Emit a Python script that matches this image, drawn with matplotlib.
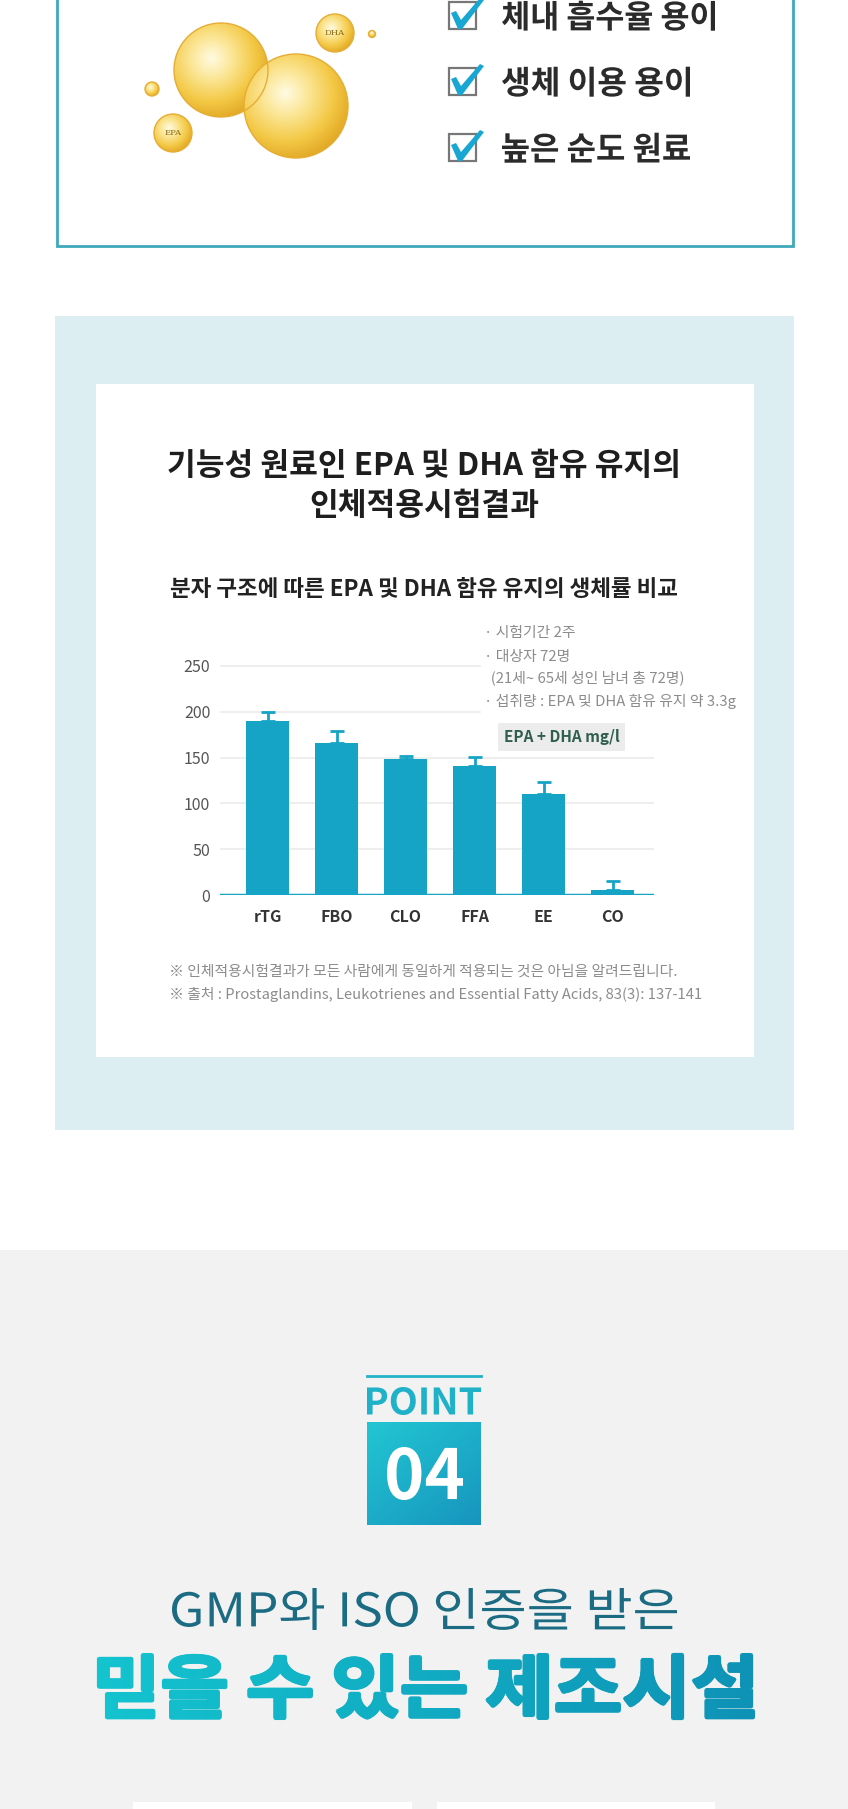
import numpy as np
import matplotlib
matplotlib.use('Agg')
import matplotlib.pyplot as plt
from matplotlib.patches import Rectangle, Circle, PathPatch, Polygon
from matplotlib.textpath import TextPath
from matplotlib.font_manager import FontProperties
from matplotlib.transforms import Affine2D
from matplotlib.colors import LinearSegmentedColormap

plt.rcParams['font.family'] = ['Noto Sans CJK KR', 'DejaVu Sans']

#Chart data (EPA + DHA mg/l)
groups = ['rTG', 'FBO', 'CLO', 'FFA', 'EE', 'CO']
values = [190, 166, 148, 141, 110, 6]
errors = [10, 13, 4, 10, 13, 10]
yticks = [0, 50, 100, 150, 200, 250]

#Texts
checks = ['체내 흡수율 용이', '생체 이용 용이', '높은 순도 원료']
title_lines = ['기능성 원료인 EPA 및 DHA 함유 유지의', '인체적용시험결과']
subtitle = '분자 구조에 따른 EPA 및 DHA 함유 유지의 생체률 비교'
notes = ['· 시험기간 2주', '· 대상자 72명', '  (21세~ 65세 성인 남녀 총 72명)',
         '· 섭취량 : EPA 및 DHA 함유 유지 약 3.3g']
unit_label = 'EPA + DHA mg/l'
footnotes = ['※ 인체적용시험결과가 모든 사람에게 동일하게 적용되는 것은 아님을 알려드립니다.',
             '※ 출처 : Prostaglandins, Leukotrienes and Essential Fatty Acids, 83(3): 137-141']
headline1 = 'GMP와 ISO 인증을 받은'
headline2 = '믿을 수 있는 제조시설'

W, H = 848, 1809
BAR = '#15a3c6'
TEAL = '#3fa9bb'

fig = plt.figure(figsize=(W / 100, H / 100), dpi=100)
bg = fig.add_axes([0, 0, 1, 1])
bg.set_xlim(0, W)
bg.set_ylim(H, 0)
bg.axis('off')


def fit_text(s, x0, x1, y0, y1, color=None, weight='normal', cmap=None, z=5, bold_px=0):
    # glyph outline squeezed into the given pixel box
    tp = TextPath((0, 0), s, size=100, prop=FontProperties(family='Noto Sans CJK KR', weight=weight))
    ext = tp.get_extents()
    sx = (x1 - x0) / ext.width
    sy = (y1 - y0) / ext.height
    tr = Affine2D().translate(-ext.x0, -ext.y1).scale(sx, -sy).translate(x0, y0)
    path = tr.transform_path(tp)
    if cmap is None:
        bg.add_patch(PathPatch(path, facecolor=color, edgecolor='none', zorder=z))
        return
    # extra shifted copies make the strokes heavier
    shifts = [(0, 0)]
    if bold_px:
        ang = np.linspace(0, 2 * np.pi, 8, endpoint=False)
        shifts += [(bold_px * np.cos(a), bold_px * np.sin(a)) for a in ang]
    grad = np.linspace(0, 1, 256).reshape(1, -1)
    for dx, dy in shifts:
        p = Affine2D().translate(dx, dy).transform_path(path)
        patch = PathPatch(p, facecolor='none', edgecolor='none', zorder=z)
        bg.add_patch(patch)
        im = bg.imshow(grad, cmap=cmap, extent=(x0 - 3, x1 + 3, y1 + 3, y0 - 3), aspect='auto', zorder=z)
        im.set_clip_path(patch)


def orb(cx, cy, r):
    yy, xx = np.mgrid[-1:1:200j, -1:1:200j]
    d = np.clip(np.hypot(xx + 0.2, yy + 0.25), 0, 1.4)
    cm = LinearSegmentedColormap.from_list('gold', ['#fffbe2', '#fbe592', '#f3c845', '#dea21e'])
    im = bg.imshow(d, cmap=cm, extent=(cx - r, cx + r, cy + r, cy - r), zorder=3, vmin=0, vmax=1.4)
    c = Circle((cx, cy), r, facecolor='none', edgecolor='#e6ad35', lw=1, zorder=4)
    bg.add_patch(c)
    im.set_clip_path(c)


#Top card
bg.add_patch(Rectangle((56.5, -10), 736, 256, facecolor='white', edgecolor=TEAL, lw=2, zorder=1))
orb(221, 70, 47)
orb(296, 106, 52)
orb(335, 33, 19)
orb(173, 133, 19)
orb(152, 89, 7)
orb(372, 34, 3.5)
bg.text(335, 33, 'DHA', ha='center', va='center', fontsize=6, family='DejaVu Serif', color='#8a6a10', zorder=6)
bg.text(173, 133, 'EPA', ha='center', va='center', fontsize=6, family='DejaVu Serif', color='#8a6a10', zorder=6)

check_tops = [2, 68, 134]
text_boxes = [(502, 715, 0.7, 30.7), (502, 690, 66.7, 96.7), (502, 690, 132.7, 162.7)]
for s, top, (a, b, c, d) in zip(checks, check_tops, text_boxes):
    bg.add_patch(Rectangle((449, top), 27, 27, facecolor='white', edgecolor='#777777', lw=1.6, zorder=5))
    pts = np.array([(2, 11), (7, 9), (12, 18), (31, -4), (35, -2), (13, 27), (9, 27)], float)
    pts[:, 0] += 449
    pts[:, 1] += top
    bg.add_patch(Polygon(pts, closed=True, facecolor='#17a7d2', edgecolor='none', zorder=6))
    fit_text(s, a, b, c, d, color='#2b2b2b', weight='bold')

#Chart panel
bg.add_patch(Rectangle((55.4, 316), 738.3, 813.5, facecolor='#ddeef2', edgecolor='none', zorder=1))
bg.add_patch(Rectangle((96, 384), 658, 672.5, facecolor='white', edgecolor='none', zorder=2))
for i, s in enumerate(title_lines):
    bg.text(424, 466 + 40 * i, s, ha='center', va='center', fontsize=22.5, weight='bold', color='#1e1e1e', zorder=5)
bg.text(424, 590, subtitle, ha='center', va='center', fontsize=16.2, weight='bold', color='#222222', zorder=5)

for i, s in enumerate(notes):
    bg.text(484, [633, 657, 678, 701][i], s, ha='left', va='center', fontsize=10.7, color='#8c8c8c', zorder=5)
bg.add_patch(Rectangle((498, 723), 127, 28, facecolor='#ececec', edgecolor='none', zorder=4))
bg.text(561.5, 737, unit_label, ha='center', va='center', fontsize=11, weight='bold', color='#2f5e4e', zorder=5)

for i, s in enumerate(footnotes):
    bg.text(169, 972 + 23 * i, s, ha='left', va='center', fontsize=10.65, color='#8c8c8c', zorder=5)

#Bar chart
ax_l, ax_r, ax_b = 220, 654, 895.3
px_per_unit = (895.3 - 665.7) / 250
ytop = 265
ax = fig.add_axes([ax_l / W, 1 - ax_b / H, (ax_r - ax_l) / W, ytop * px_per_unit / H])
ax.patch.set_alpha(0)
x = np.arange(len(groups))
ax.set_xlim(-0.69, 5.6)
ax.set_ylim(0, ytop)
for v in yticks[1:]:
    ax.axhline(v, xmax=0.6 if v >= 200 else 1.0, color='#ebebeb', lw=1.2, zorder=0)
ax.bar(x, values, width=0.62, color=BAR, zorder=2)
ax.errorbar(x, values, yerr=[np.zeros(len(values)), errors], fmt='none', ecolor=BAR,
            elinewidth=2, capsize=5, capthick=2, zorder=1)
ax.axhline(0, color=BAR, lw=2.5, zorder=3)
ax.set_yticks(yticks)
ax.set_yticklabels([str(v) for v in yticks], fontsize=11.5, color='#555555')
ax.set_xticks(x)
ax.set_xticklabels(groups, fontsize=11.5, weight='bold', color='#333333')
ax.tick_params(axis='y', length=0, pad=7)
ax.tick_params(axis='x', length=0, pad=10)
for sp in ax.spines.values():
    sp.set_visible(False)

#Point section
bg.add_patch(Rectangle((0, 1250), W, H - 1250, facecolor='#f2f2f2', edgecolor='none', zorder=1))
bg.plot([367, 481], [1375.5, 1375.5], color='#22b2c8', lw=2, zorder=5)
fit_text('POINT', 367, 481, 1387, 1415, color='#1fb1c8', weight='bold')
yy, xx = np.mgrid[0:1:100j, 0:1:100j]
badge = bg.imshow(xx * 0.45 + yy * 0.55, cmap=LinearSegmentedColormap.from_list('b', ['#22c6d3', '#1795be']),
                  extent=(367, 481, 1525, 1422.7), aspect='auto', zorder=4)
fit_text('04', 387, 463, 1447, 1500, color='white', weight='bold', z=6)

fit_text(headline1, 172, 677, 1588, 1630, color='#1b6b82')
fit_text(headline2, 98.5, 753.5, 1654.5, 1718.5, weight='bold', bold_px=1.6,
         cmap=LinearSegmentedColormap.from_list('h', ['#14c4cf', '#0e92b6']))

bg.add_patch(Rectangle((133, 1801.5), 278.5, 20, facecolor='white', edgecolor='none', zorder=2))
bg.add_patch(Rectangle((436.5, 1801.5), 278.5, 20, facecolor='white', edgecolor='none', zorder=2))

fig.savefig('out.png', dpi=100)
